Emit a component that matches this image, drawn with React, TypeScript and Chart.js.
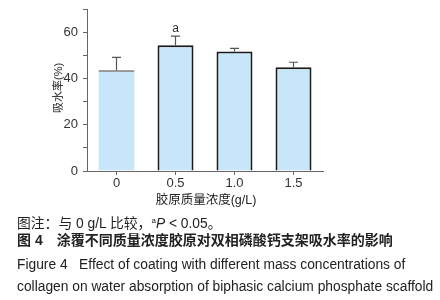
import React, { useEffect, useRef } from "react";
import { Chart, registerables } from "chart.js";

Chart.register(...registerables);

const categories = ["0", "0.5", "1.0", "1.5"];
const means = [43.5, 54.3, 51.6, 44.8];
const errors = [5.6, 4.0, 1.4, 2.2];
const sigMarks = ["", "a", "", ""];
const yTickLabels = [0, 20, 40, 60];

const FONT = '"Liberation Sans", Arial, "Noto Sans CJK SC", sans-serif';

const errorBarPlugin = {
  id: "errbars",
  afterDatasetsDraw(chart: any) {
    const { ctx, scales } = chart;
    const y = scales.y;
    const meta = chart.getDatasetMeta(0);
    meta.data.forEach((bar: any, i: number) => {
      const xp = bar.x;
      const base = y.getPixelForValue(means[i]);
      const top = y.getPixelForValue(means[i] + errors[i]);
      ctx.save();
      ctx.strokeStyle = "#555";
      ctx.lineWidth = 1.2;
      ctx.beginPath();
      ctx.moveTo(xp, base);
      ctx.lineTo(xp, top);
      ctx.moveTo(xp - 4.5, top);
      ctx.lineTo(xp + 4.5, top);
      ctx.stroke();
      if (sigMarks[i]) {
        ctx.fillStyle = "#333";
        ctx.font = "12px " + FONT;
        ctx.textAlign = "center";
        ctx.textBaseline = "alphabetic";
        ctx.fillText(sigMarks[i], xp, top - 4);
      }
      ctx.restore();
    });
  },
};

export default function App() {
  const ref = useRef<HTMLCanvasElement | null>(null);
  useEffect(() => {
    if (!ref.current) return;
    const chart = new Chart(ref.current, {
      type: "bar",
      data: {
        labels: categories,
        datasets: [
          {
            data: means,
            backgroundColor: "#c8e6f9",
            borderColor: ["#555", "#1a1a1a", "#1a1a1a", "#1a1a1a"],
            borderWidth: [
              { top: 1.5, left: 0, right: 0, bottom: 0 },
              2,
              2,
              2,
            ] as any,
            borderSkipped: "bottom",
            barPercentage: 0.61,
            categoryPercentage: 1,
          },
        ],
      },
      options: {
        responsive: false,
        animation: false,
        layout: { padding: { left: 0, right: 117, top: 9, bottom: 0 } },
        plugins: { legend: { display: false }, tooltip: { enabled: false } },
        scales: {
          x: {
            afterFit: (s: any) => {
              s.height = 34;
              s.paddingLeft = 0;
              s.paddingRight = 0;
            },
            grid: {
              display: true,
              drawOnChartArea: false,
              drawTicks: true,
              tickLength: 4,
              offset: false,
              color: "#666",
            },
            border: { display: true, color: "#666", width: 1 },
            ticks: {
              color: "#333",
              font: { family: FONT, size: 13 },
              padding: 1,
            },
          },
          y: {
            min: 0,
            max: 70,
            afterFit: (s: any) => {
              s.width = 87;
              s.paddingTop = 0;
              s.paddingBottom = 0;
            },
            grid: {
              display: true,
              drawOnChartArea: false,
              drawTicks: true,
              tickLength: 4,
              color: "#666",
            },
            border: { display: true, color: "#666", width: 1 },
            ticks: {
              stepSize: 10,
              color: "#333",
              font: { family: FONT, size: 13 },
              padding: 5,
              callback: (v: any) => (yTickLabels.includes(Number(v)) ? String(v) : ""),
            },
          },
        },
      },
      plugins: [errorBarPlugin],
    });
    return () => chart.destroy();
  }, []);

  const txt: React.CSSProperties = {
    position: "absolute",
    left: 17,
    whiteSpace: "pre",
    color: "#222",
    fontFamily: FONT,
    fontSize: 13.8,
    lineHeight: "16px",
  };

  return (
    <div
      style={{
        position: "fixed",
        left: 0,
        top: 0,
        width: 440,
        height: 300,
        background: "#fff",
        overflow: "hidden",
      }}
    >
      <canvas ref={ref} width={440} height={205} style={{ position: "absolute", left: 0, top: 0 }} />
      <div
        style={{
          position: "absolute",
          left: 57,
          top: 88,
          transform: "translate(-50%, -50%) rotate(-90deg)",
          whiteSpace: "nowrap",
          fontFamily: FONT,
          fontSize: 11,
          color: "#222",
        }}
      >
        吸水率(%)
      </div>
      <div
        style={{
          position: "absolute",
          left: 206,
          top: 198,
          transform: "translate(-50%, -50%)",
          whiteSpace: "nowrap",
          fontFamily: FONT,
          fontSize: 12.5,
          color: "#222",
        }}
      >
        胶原质量浓度(g/L)
      </div>
      <div style={{ ...txt, top: 213 }}>
        图注：与 0 g/L 比较，<sup style={{ fontSize: 8, verticalAlign: "5px" }}>a</sup>
        <i>P</i> &lt; 0.05。
      </div>
      <div style={{ ...txt, top: 232, fontWeight: "bold", fontSize: 14 }}>图 4　涂覆不同质量浓度胶原对双相磷酸钙支架吸水率的影响</div>
      <div style={{ ...txt, top: 257 }}>Figure 4   Effect of coating with different mass concentrations of</div>
      <div style={{ ...txt, top: 279 }}>collagen on water absorption of biphasic calcium phosphate scaffold</div>
    </div>
  );
}
